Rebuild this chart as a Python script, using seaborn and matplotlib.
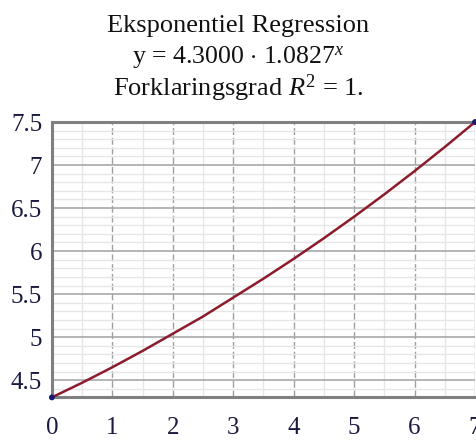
import numpy as np
import pandas as pd
import matplotlib
matplotlib.use("Agg")
import matplotlib.pyplot as plt
import seaborn as sns
from matplotlib.ticker import MultipleLocator

# Data
curve_x = [0, 0.5, 1, 1.5, 2, 2.5, 3, 3.5, 4, 4.5, 5, 5.5, 6, 6.5, 7]
curve_y = [4.30, 4.47, 4.65, 4.84, 5.04, 5.24, 5.46, 5.68, 5.91, 6.15, 6.40, 6.66, 6.93, 7.21, 7.50]
point_x = [0, 7]
point_y = [4.3, 7.5]
title_lines = ["Eksponentiel Regression",
               r"y = 4.3000 $\cdot$ 1.0827$^{x}$",
               r"Forklaringsgrad $R^{2}$ = 1."]
xticks = [0, 1, 2, 3, 4, 5, 6, 7]
yticks = [4.5, 5, 5.5, 6, 6.5, 7, 7.5]
ytick_labels = ["4.5", "5", "5.5", "6", "6.5", "7", "7.5"]

sns.set_theme(style="white")
plt.rcParams['font.family'] = ['Liberation Serif', 'DejaVu Serif']
plt.rcParams['mathtext.fontset'] = 'custom'
plt.rcParams['mathtext.rm'] = 'Liberation Serif'
plt.rcParams['mathtext.it'] = 'Liberation Serif:italic'

fig = plt.figure(figsize=(4.76, 4.47), dpi=100)
ax = fig.add_axes([0.109, 0.111, 0.889, 0.616])

df_curve = pd.DataFrame({"x": curve_x, "y": curve_y})
df_pts = pd.DataFrame({"x": point_x, "y": point_y})

sns.lineplot(data=df_curve, x="x", y="y", ax=ax, color="#8c1c2c", lw=1.8, zorder=3)
sns.scatterplot(data=df_pts, x="x", y="y", ax=ax, color="#1a1a70", s=18,
                edgecolor="none", zorder=4, clip_on=False)

ax.set_xlim(0, 7)
ax.set_ylim(4.3, 7.5)
ax.set_xticks(xticks)
ax.set_yticks(yticks)
ax.set_yticklabels(ytick_labels)
ax.xaxis.set_minor_locator(MultipleLocator(0.5))
ax.yaxis.set_minor_locator(MultipleLocator(0.1))

ax.grid(which="major", axis="x", color="#a0a0a0", lw=1.0, ls=(0, (5, 2)))
ax.grid(which="major", axis="y", color="#a8a8a8", lw=1.2, ls="-")
ax.grid(which="minor", color="#e6e6e6", lw=1.0, ls="-")
ax.set_axisbelow(True)

for s in ["left", "bottom", "top"]:
    ax.spines[s].set_visible(True)
    ax.spines[s].set_color("#808080")
    ax.spines[s].set_linewidth(2.2)
ax.spines["right"].set_visible(False)

ax.tick_params(which="major", direction="inout", length=6, width=1.4, color="#404040",
               labelsize=18, labelcolor="#1a1a40")
ax.tick_params(which="minor", direction="inout", length=5, width=1.4, color="#404040")
ax.tick_params(axis="x", which="major", pad=11)
ax.tick_params(axis="y", which="major", pad=4)

ax.set_xlabel("")
ax.set_ylabel("")
fig.text(0.551, 0.011, "x", fontsize=18, style="italic", color="#1a1a40",
         ha="center", va="top")

ys_px = [32, 64, 96]
sizes = [19, 18.5, 19]
for t, y, fs in zip(title_lines, ys_px, sizes):
    fig.text(0.5, 1 - y / 447, t, fontsize=fs, ha="center", va="baseline", color="#111111")

fig.savefig("out.png", dpi=100)
